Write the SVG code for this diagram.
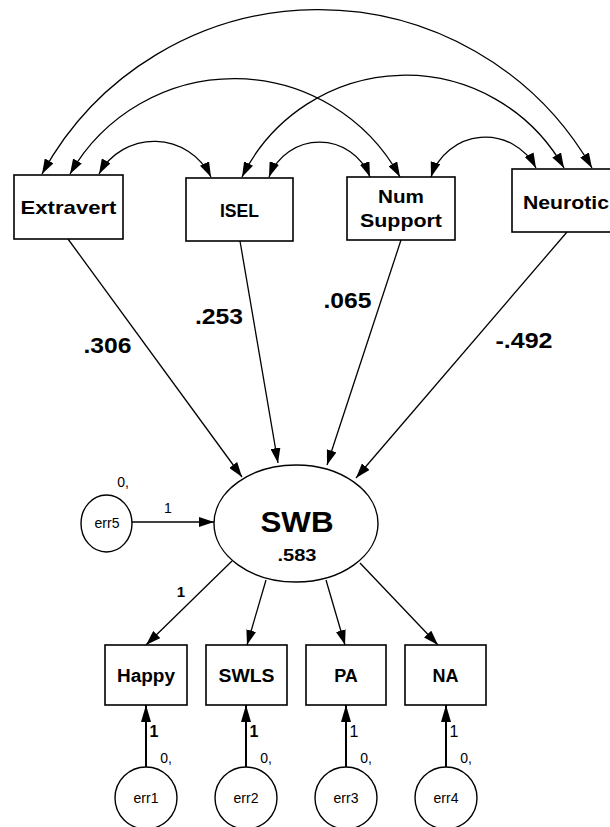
<svg xmlns="http://www.w3.org/2000/svg" width="610" height="827" viewBox="0 0 610 827">
<defs>
<style>
.box{fill:#fff;stroke:#000;stroke-width:1.6}
.ell{fill:#fff;stroke:#000;stroke-width:1.4}
.con{fill:none;stroke:#000;stroke-width:1.3}
.err{fill:none;stroke:#000;stroke-width:2}
.t{font-family:"Liberation Sans",Arial,sans-serif;fill:#000;text-anchor:middle}
.b{font-weight:bold}
</style>
<marker id="ah" markerUnits="userSpaceOnUse" markerWidth="15" markerHeight="10" viewBox="0 0 15 10" refX="15" refY="5" orient="auto-start-reverse">
<path d="M0,0 L15,5 L0,10 z" fill="#000"/>
</marker>
<marker id="ah2" markerUnits="userSpaceOnUse" markerWidth="17" markerHeight="10" viewBox="0 0 17 10" refX="17" refY="5" orient="auto">
<path d="M0,0 L17,5 L0,10 z" fill="#000"/>
</marker>
</defs>
<rect width="610" height="827" fill="#fff"/>
<g id="connectors">
<path class="con" d="M42,174 A315,315 0 0 1 592,168" marker-start="url(#ah)" marker-end="url(#ah)"/>
<path class="con" d="M70,174 A189,189 0 0 1 400,177" marker-start="url(#ah)" marker-end="url(#ah)"/>
<path class="con" d="M242,177 A182,182 0 0 1 564,168" marker-start="url(#ah)" marker-end="url(#ah)"/>
<path class="con" d="M99,174 A63,63 0 0 1 211,177" marker-start="url(#ah)" marker-end="url(#ah)"/>
<path class="con" d="M269,177 A54,54 0 0 1 370,177" marker-start="url(#ah)" marker-end="url(#ah)"/>
<path class="con" d="M431,177 A57,57 0 0 1 536,168" marker-start="url(#ah)" marker-end="url(#ah)"/>
<line class="con" x1="68" y1="239" x2="242" y2="477" marker-end="url(#ah)"/>
<line class="con" x1="240" y1="241" x2="278" y2="463" marker-end="url(#ah)"/>
<line class="con" x1="401" y1="240" x2="327" y2="465" marker-end="url(#ah)"/>
<line class="con" x1="567" y1="232" x2="356" y2="478" marker-end="url(#ah)"/>
<line class="con" x1="132" y1="522" x2="214" y2="522" marker-end="url(#ah)"/>
<line class="con" x1="232" y1="561" x2="146" y2="645" marker-end="url(#ah)"/>
<line class="con" x1="266" y1="580" x2="247" y2="645" marker-end="url(#ah)"/>
<line class="con" x1="326" y1="580" x2="345" y2="645" marker-end="url(#ah)"/>
<line class="con" x1="360" y1="563" x2="438" y2="645" marker-end="url(#ah)"/>
<line class="err" x1="146" y1="767" x2="146" y2="705" marker-end="url(#ah2)"/>
<line class="err" x1="246" y1="767" x2="246" y2="705" marker-end="url(#ah2)"/>
<line class="err" x1="346" y1="767" x2="346" y2="705" marker-end="url(#ah2)"/>
<line class="err" x1="446" y1="767" x2="446" y2="705" marker-end="url(#ah2)"/>
<text class="t b" x="107.5" y="353" font-size="22" textLength="48" lengthAdjust="spacingAndGlyphs">.306</text>
<text class="t b" x="219" y="324" font-size="22" textLength="48" lengthAdjust="spacingAndGlyphs">.253</text>
<text class="t b" x="347.5" y="308" font-size="22" textLength="48" lengthAdjust="spacingAndGlyphs">.065</text>
<text class="t b" x="524" y="348" font-size="22" textLength="57" lengthAdjust="spacingAndGlyphs">-.492</text>
<text class="t" x="168" y="513" font-size="14">1</text>
<text class="t b" x="181" y="597" font-size="15">1</text>
<text class="t b" x="154" y="737" font-size="16">1</text>
<text class="t b" x="254" y="737" font-size="16">1</text>
<text class="t" x="354" y="737" font-size="16">1</text>
<text class="t" x="454" y="737" font-size="16">1</text>
</g>
<g id="Extravert">
<rect class="box" x="14" y="175" width="109" height="64"/>
<text class="t b" x="68.5" y="214" font-size="19" textLength="96" lengthAdjust="spacingAndGlyphs">Extravert</text>
</g>
<g id="ISEL">
<rect class="box" x="186" y="178" width="107" height="63"/>
<text class="t b" x="239.5" y="217" font-size="19" textLength="39" lengthAdjust="spacingAndGlyphs">ISEL</text>
</g>
<g id="NumSupport">
<rect class="box" x="347" y="177" width="108" height="63"/>
<text class="t b" x="401" y="203" font-size="19" textLength="46" lengthAdjust="spacingAndGlyphs">Num</text>
<text class="t b" x="401" y="227" font-size="19" textLength="82" lengthAdjust="spacingAndGlyphs">Support</text>
</g>
<g id="Neurotic">
<rect class="box" x="512" y="169" width="112" height="63"/>
<text class="t b" x="566" y="209" font-size="19" textLength="86" lengthAdjust="spacingAndGlyphs">Neurotic</text>
</g>
<g id="SWB">
<ellipse class="ell" cx="296" cy="523.5" rx="82" ry="58.5"/>
<text class="t b" x="297" y="532" font-size="29" textLength="73" lengthAdjust="spacingAndGlyphs">SWB</text>
<text class="t b" x="297" y="561" font-size="17" textLength="39" lengthAdjust="spacingAndGlyphs">.583</text>
</g>
<g id="err5">
<ellipse class="ell" cx="106.5" cy="523.5" rx="25.5" ry="28.5"/>
<text class="t" x="107" y="528" font-size="14">err5</text>
<text class="t" x="123" y="487" font-size="14">0,</text>
</g>
<g id="Happy">
<rect class="box" x="105" y="645" width="82" height="60"/>
<text class="t b" x="146" y="682" font-size="18" textLength="58" lengthAdjust="spacingAndGlyphs">Happy</text>
</g>
<g id="SWLS">
<rect class="box" x="206" y="645" width="81" height="60"/>
<text class="t b" x="246.5" y="682" font-size="18" textLength="56" lengthAdjust="spacingAndGlyphs">SWLS</text>
</g>
<g id="PA">
<rect class="box" x="306" y="645" width="80" height="60"/>
<text class="t b" x="346" y="682" font-size="18">PA</text>
</g>
<g id="NA">
<rect class="box" x="405" y="645" width="81" height="60"/>
<text class="t b" x="445.5" y="682" font-size="18">NA</text>
</g>
<g id="err1">
<ellipse class="ell" cx="146" cy="798" rx="31" ry="31"/>
<text class="t" x="146" y="803" font-size="14">err1</text>
<text class="t" x="166" y="763" font-size="14">0,</text>
</g>
<g id="err2">
<ellipse class="ell" cx="246" cy="798" rx="31" ry="31"/>
<text class="t" x="246" y="803" font-size="14">err2</text>
<text class="t" x="266" y="763" font-size="14">0,</text>
</g>
<g id="err3">
<ellipse class="ell" cx="346" cy="798" rx="31" ry="31"/>
<text class="t" x="346" y="803" font-size="14">err3</text>
<text class="t" x="366" y="763" font-size="14">0,</text>
</g>
<g id="err4">
<ellipse class="ell" cx="446" cy="798" rx="31" ry="31"/>
<text class="t" x="446" y="803" font-size="14">err4</text>
<text class="t" x="466" y="763" font-size="14">0,</text>
</g>
</svg>
